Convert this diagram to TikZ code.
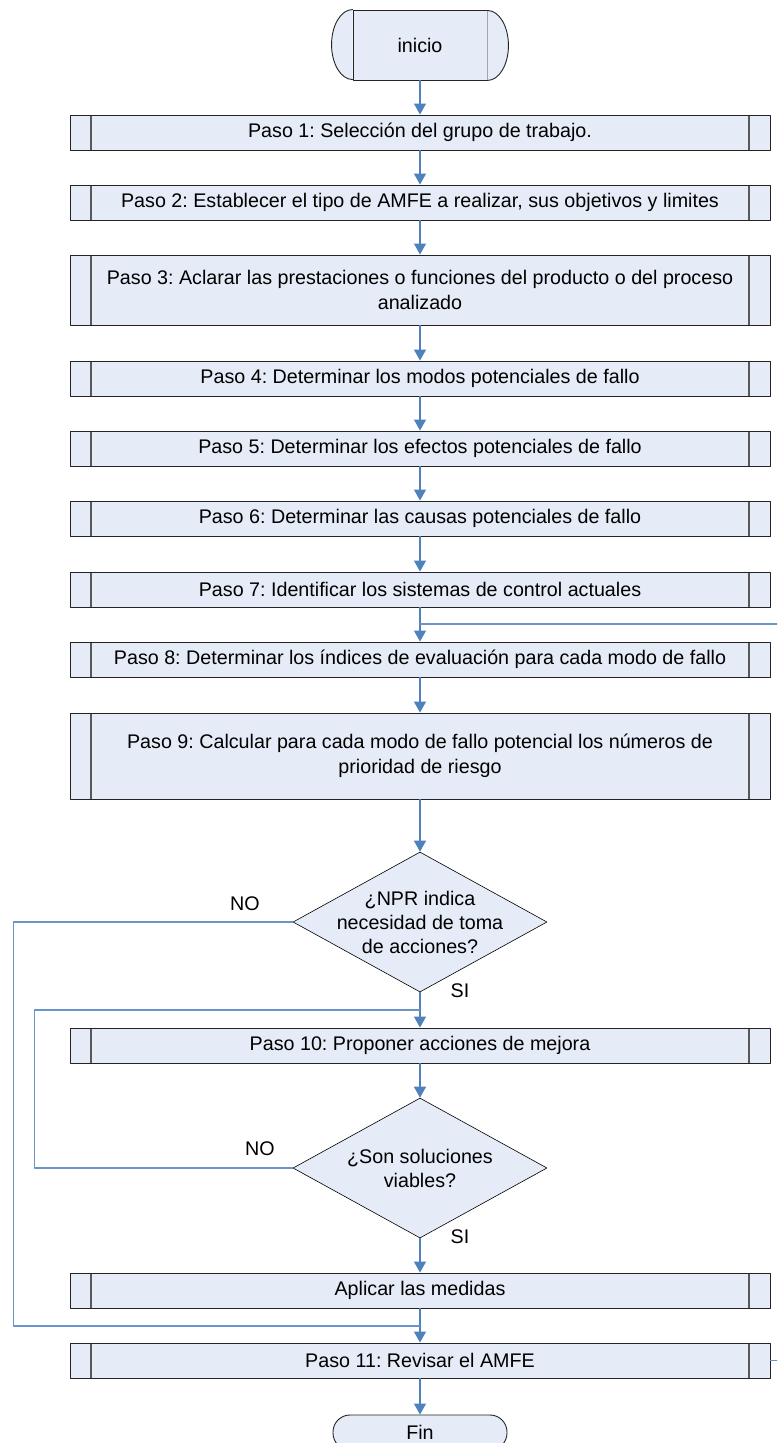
\documentclass[tikz,border=0pt]{standalone}
\usepackage{fontspec}
\setmainfont{Liberation Sans}
\usetikzlibrary{arrows.meta,shapes.geometric,shadows}
\definecolor{relleno}{RGB}{230,236,247}
\definecolor{flecha}{RGB}{79,129,189}
\definecolor{borde}{RGB}{35,35,35}
\frenchspacing

\begin{document}
\begin{tikzpicture}[x=1pt,y=1pt,line cap=round,line join=round,
  >={Triangle[length=11pt,width=12pt]},
  paso/.style={draw=borde,fill=relleno,line width=0.9pt,minimum width=700pt,minimum height=35pt,
    inner sep=0pt,align=center,font=\fontsize{19.7}{24.5}\selectfont,
    drop shadow={shadow xshift=1.2pt,shadow yshift=-1.2pt,fill=black!35},
    path picture={\draw[line width=1.2pt,draw=black!65]
      ([xshift=21pt]path picture bounding box.north west) -- ([xshift=21pt]path picture bounding box.south west)
      ([xshift=-21pt]path picture bounding box.north east) -- ([xshift=-21pt]path picture bounding box.south east);}},
  terminal/.style={draw=borde,fill=relleno,line width=0.9pt,minimum width=134pt,minimum height=70pt,
    inner sep=0pt,font=\fontsize{19.7}{24}\selectfont},
  fin/.style={draw=borde,fill=relleno,line width=0.9pt,rounded corners=17pt,minimum width=174pt,
    minimum height=35pt,inner sep=0pt,font=\fontsize{19.7}{24}\selectfont},
  decision/.style={diamond,draw=black,fill=relleno,line width=0.6pt,minimum width=254pt,
    minimum height=140pt,inner sep=0pt},
  pregunta/.style={align=center,font=\fontsize{19.7}{24}\selectfont},
  rotulo/.style={font=\fontsize{19.7}{24}\selectfont},
  flujo/.style={->,draw=flecha,line width=1.2pt},
  lazo/.style={draw=flecha!85,line width=1.2pt}]
\clip (0,0) rectangle (777,-1443);

\node[terminal] (ini) at (420,-45) {inicio};
\filldraw[draw=borde,fill=relleno,line width=0.9pt] (ini.north west) arc[start angle=90,end angle=270,x radius=21,y radius=35];
\filldraw[draw=borde,fill=relleno,line width=0.9pt] (ini.south east) arc[start angle=-90,end angle=90,x radius=21,y radius=35];

\node[paso] (p1) at (420,-132.5) {Paso 1: Selección del grupo de trabajo.};
\node[paso] (p2) at (420,-202.5) {Paso 2: Establecer el tipo de AMFE a realizar, sus objetivos y limites};
\node[paso,minimum height=70pt] (p3) at (420,-290) {Paso 3: Aclarar las prestaciones o funciones del producto o del proceso\\analizado};
\node[paso] (p4) at (420,-378.5) {Paso 4: Determinar los modos potenciales de fallo};
\node[paso] (p5) at (420,-448.5) {Paso 5: Determinar los efectos potenciales de fallo};
\node[paso] (p6) at (420,-518.5) {Paso 6: Determinar las causas potenciales de fallo};
\node[paso] (p7) at (420,-589.5) {Paso 7: Identificar los sistemas de control actuales};
\node[paso] (p8) at (420,-659.5) {Paso 8: Determinar los índices de evaluación para cada modo de fallo};
\node[paso,minimum height=86pt] (p9) at (420,-756) {Paso 9: Calcular para cada modo de fallo potencial los números de\\prioridad de riesgo};

\node[decision] (npr) at (420,-922) {};
\node[pregunta] (tnpr) at (npr) {¿NPR indica\\necesidad de toma\\de acciones?};

\node[paso] (p10) at (420,-1045.5) {Paso 10: Proponer acciones de mejora};

\node[decision] (sol) at (420,-1168) {};
\node[pregunta] (tsol) at (sol) {¿Son soluciones\\viables?};

\node[paso] (apl) at (420,-1290.5) {Aplicar las medidas};
\node[paso] (p11) at (420,-1360.5) {Paso 11: Revisar el AMFE};
\node[fin] (fin) at (420,-1432.5) {Fin};

\coordinate (j8) at (420,-624);
\coordinate (j10) at (420,-1010);
\coordinate (j11) at (420,-1326);

\draw[flujo] (ini) -- (p1);
\draw[flujo] (p1) -- (p2);
\draw[flujo] (p2) -- (p3);
\draw[flujo] (p3) -- (p4);
\draw[flujo] (p4) -- (p5);
\draw[flujo] (p5) -- (p6);
\draw[flujo] (p6) -- (p7);
\draw[flujo] (p7) -- (p8);
\draw[flujo] (p8) -- (p9);
\draw[flujo] (p9) -- (npr);
\draw[flujo] (npr) -- (p10);
\draw[flujo] (p10) -- (sol);
\draw[flujo] (sol) -- (apl);
\draw[flujo] (apl) -- (p11);
\draw[flujo] (p11) -- (fin);

\draw[lazo] (npr.west) -- ++(-279,0) |- (j11);
\draw[lazo] (sol.west) -- ++(-258,0) |- (j10);
\draw[lazo] (p11.east) -- ++(40,0) |- (j8);

\node[rotulo] (no1) at (245,-904) {NO};
\node[rotulo] (si1) at (460,-991) {SI};
\node[rotulo] (no2) at (260,-1149) {NO};
\node[rotulo] (si2) at (460,-1237) {SI};
\end{tikzpicture}
\end{document}
